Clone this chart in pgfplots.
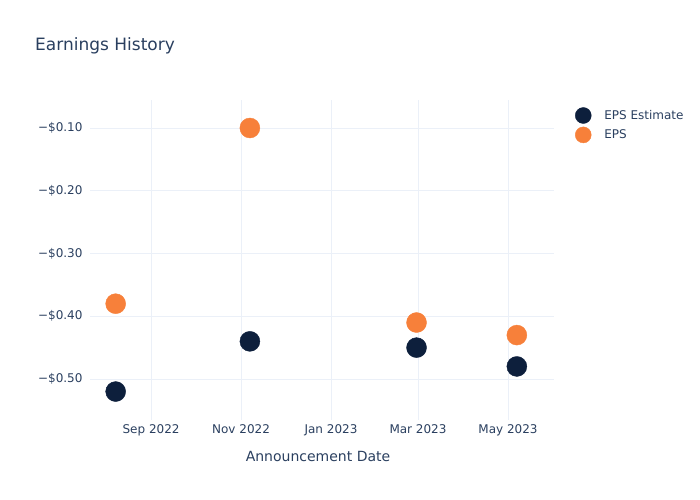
\documentclass[border=0pt]{standalone}
\usepackage{pgfplots}
\pgfplotsset{compat=1.18}
\usepackage{fontspec}
\setmainfont{DejaVu Sans}
\definecolor{txt}{HTML}{2A3F5F}
\definecolor{gridc}{HTML}{EBF0F8}
\definecolor{est}{HTML}{0D1F3C}
\definecolor{eps}{HTML}{F7803A}
\begin{document}
\begin{tikzpicture}[x=1bp,y=1bp]
\useasboundingbox (0,0) rectangle (700,500);
\node[anchor=west,inner sep=0pt,text=txt,font=\fontsize{17bp}{20bp}\selectfont] at (35,454) {Earnings History};
\begin{axis}[
  at={(90bp,80bp)}, anchor=south west,
  scale only axis, width=464bp, height=320bp,
  xmin=-41.4, xmax=273.2, ymin=-0.5653, ymax=-0.0554,
  xtick={0,61,122,181,242},
  xticklabels={Sep 2022,Nov 2022,Jan 2023,Mar 2023,May 2023},
  ytick={-0.5,-0.4,-0.3,-0.2,-0.1},
  yticklabels={−\$0.50,−\$0.40,−\$0.30,−\$0.20,−\$0.10},
  grid=major, major grid style={gridc, line width=0.8bp},
  axis line style={draw=none}, major tick length=0pt,
  tick label style={text=txt, font=\fontsize{12bp}{14bp}\selectfont},
  xticklabel style={yshift=-1bp},
  yticklabel style={xshift=-4bp},
  xlabel={Announcement Date},
  xlabel style={text=txt, font=\fontsize{14bp}{16bp}\selectfont, yshift=-9bp, xshift=-4bp},
  legend style={at={(1.0385,0.984)}, anchor=north west, draw=none, fill=none,
    text=txt, font=\fontsize{12bp}{14bp}\selectfont, row sep=3bp,
    legend cell align=left},
  legend image code/.code={\path[draw=none,fill=none] (-8bp,0) -- (19bp,0); \fill[#1] (0,0) circle (8bp);},
  clip=false,
]
\addplot[only marks, mark=*, mark size=10bp, draw=est, fill=est] coordinates {
(-24,-0.52) (67,-0.44) (180,-0.45) (248,-0.48)};
\addlegendentry{EPS Estimate}
\addplot[only marks, mark=*, mark size=10bp, draw=eps, fill=eps] coordinates {
(-24,-0.38) (67,-0.10) (180,-0.41) (248,-0.43)};
\addlegendentry{EPS}
\end{axis}
\end{tikzpicture}
\end{document}
